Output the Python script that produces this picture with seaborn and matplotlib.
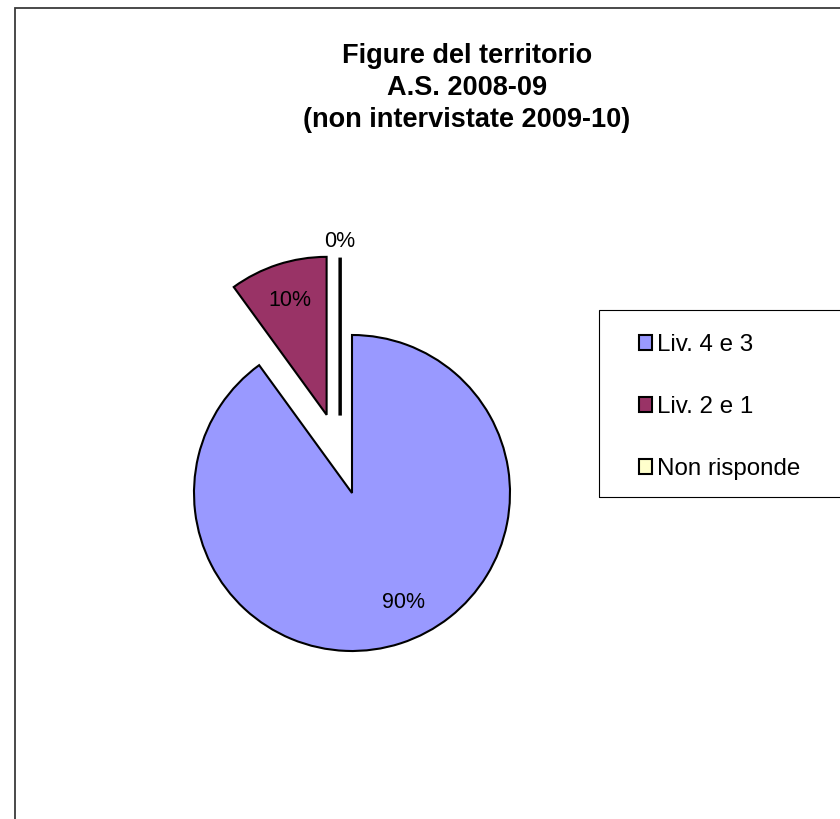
import matplotlib
matplotlib.use("Agg")
import matplotlib.pyplot as plt
import seaborn as sns
from matplotlib.patches import Rectangle

# ---- data ----
categories = ["Liv. 4 e 3", "Liv. 2 e 1", "Non risponde"]
values = [90, 10, 0]
colors = ["#9999FF", "#993366", "#FFFFCC"]
title_lines = ["Figure del territorio", "A.S. 2008-09", "(non intervistate 2009-10)"]

sns.set_theme(style="white")
plt.rcParams['font.family'] = ['Liberation Sans', 'DejaVu Sans']
plt.rcParams['text.color'] = 'black'

W, H = 840, 819
fig = plt.figure(figsize=(W / 100, H / 100), dpi=100)
fig.patch.set_facecolor("white")

cx, cy, r = 352, 493, 158
ax = fig.add_axes([(cx - 2 * r) / W, (H - cy - 2 * r) / H, 4 * r / W, 4 * r / H])
wedges, texts, autotexts = ax.pie(
    values, colors=colors, startangle=90, counterclock=False,
    explode=[0, 0.52, 0.49], autopct=lambda p: f"{p:.0f}%", pctdistance=0.76,
    wedgeprops=dict(edgecolor="black", linewidth=1.5),
    textprops=dict(fontsize=15.5, color="black"), radius=1)
ax.set_xlim(-2, 2)
ax.set_ylim(-2, 2)
ax.set_aspect('auto')
ax.axis('off')

# zero slice: drawn as a thick line, slightly offset, label outside
zc = wedges[2].center
wedges[2].set_center((zc[0] - 0.075, zc[1]))
wedges[2].set_linewidth(2.5)
autotexts[2].set_position((zc[0] - 0.075, zc[1] + 1.1))

# nudge big-slice label like the original layout
px, py = autotexts[0].get_position()
autotexts[0].set_position((px + 0.09, py + 0.03))

# title
for line, yb in zip(title_lines, [63, 95, 127]):
    fig.text(467 / W, 1 - yb / H, line, ha='center', va='baseline',
             fontsize=19.5, fontweight='bold', color='black')

# legend
handles = [Rectangle((0, 0), 1, 1, facecolor=c, edgecolor='black', lw=1.5) for c in colors]
fig.legend(handles, categories, loc="center left",
           bbox_to_anchor=(639 / W, 1 - 407 / H), bbox_transform=fig.transFigure,
           frameon=False, fontsize=17.4, handlelength=0.54, handleheight=0.54,
           handletextpad=0.2, labelspacing=1.65, borderpad=0, borderaxespad=0,
           labelcolor='black')
fig.add_artist(Rectangle((599 / W, 1 - 497 / H), 0.5, (497 - 310) / H,
                         transform=fig.transFigure, fill=False,
                         edgecolor='black', lw=0.8))

# outer chart frame
fig.add_artist(Rectangle((14.5 / W, -0.5), 1.5, 0.5 + 1 - 7.5 / H,
                         transform=fig.transFigure, fill=False,
                         edgecolor='#3a3a3a', lw=1.3))

fig.savefig("out.png", dpi=100)
